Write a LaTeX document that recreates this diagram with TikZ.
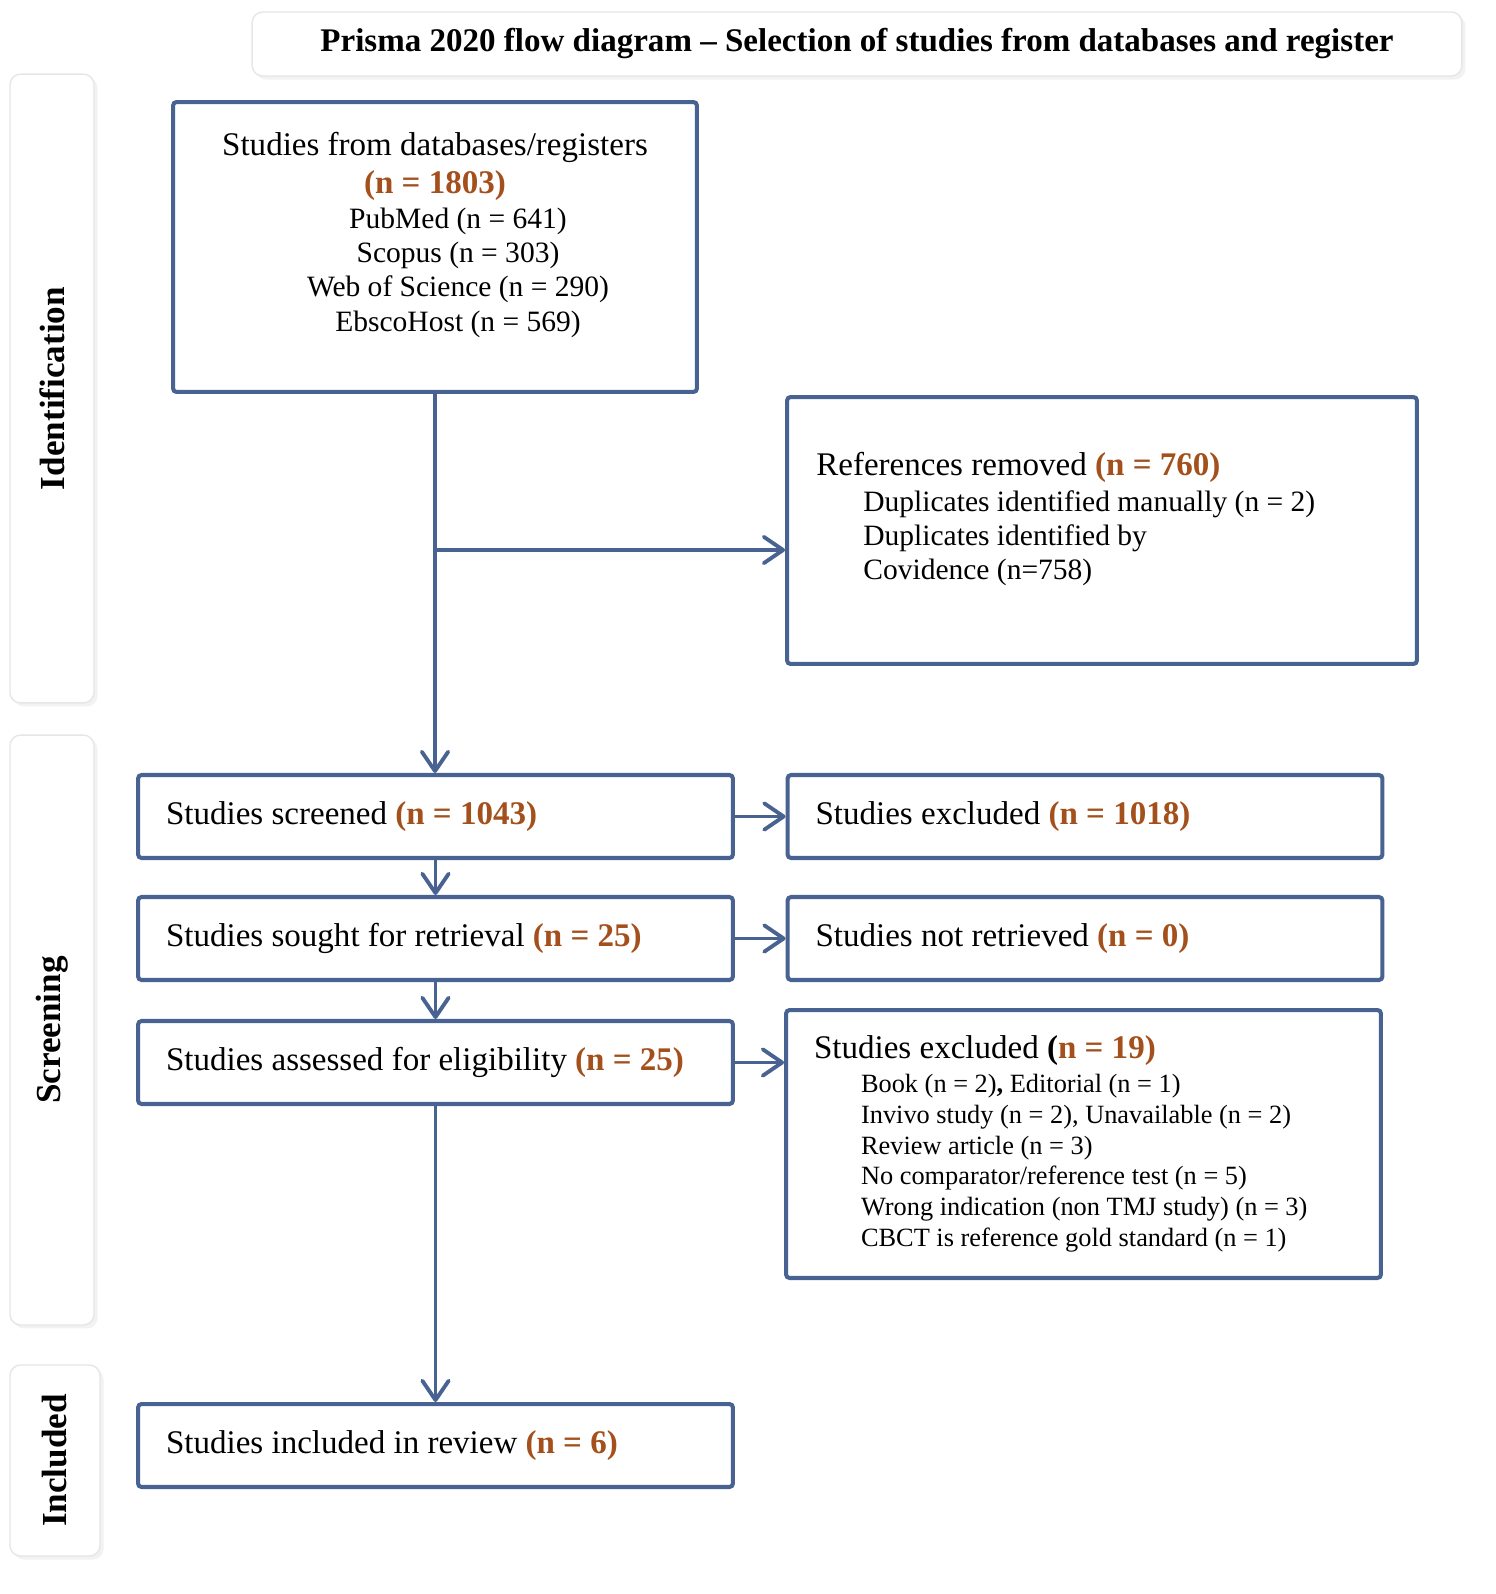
\documentclass[tikz,border=0pt]{standalone}
\usepackage{fontspec}
\setmainfont{Liberation Serif}
\usetikzlibrary{positioning,arrows.meta,shadows}

\definecolor{prisblue}{RGB}{72,99,145}
\definecolor{prisorange}{RGB}{164,80,28}
\definecolor{panelgray}{RGB}{230,230,230}

\newcommand{\mainsize}{\fontsize{18.8}{20.3}\selectfont}
\newcommand{\subsize}{\fontsize{16.8}{19.4}\selectfont}
\newcommand{\listsize}{\fontsize{15}{17.5}\selectfont}
\newcommand{\sidesize}{\fontsize{20}{22}\selectfont}
\newcommand{\nval}[1]{\textbf{\color{prisorange}#1}}

\begin{document}
\begin{tikzpicture}[x=0.02cm,y=-0.02cm,>={Straight Barb[length=11pt,width=15pt,round]},
  flowbox/.style={draw=prisblue, line width=2.3pt, rounded corners=2pt, fill=white, font=\mainsize},
  leftbox/.style={flowbox, minimum height=1.66cm, text width=10.78cm, align=flush left, inner xsep=0.56cm},
  panel/.style={draw=panelgray, line width=0.8pt, rounded corners=6pt, fill=white,
    drop shadow={opacity=0.10, shadow xshift=2pt, shadow yshift=-2pt}},
  sidelabel/.style={rotate=90, font=\sidesize\bfseries},
  flow/.style={->, draw=prisblue, line width=2.2pt}]
  \fill[white] (0,0) rectangle (1496,1594);

  % Title and stage panels
  \node[panel, minimum width=24.2cm, minimum height=1.28cm, font=\mainsize\bfseries] (title) at (857,44)
    {Prisma 2020 flow diagram – Selection of studies from databases and register};
  \node[panel, minimum width=1.68cm, minimum height=12.58cm] (idpanel) at (52,388.5) {};
  \node[sidelabel] (idlabel) at (idpanel.center) {Identification};
  \node[panel, minimum width=1.68cm, minimum height=11.8cm] (scrpanel) at (52,1030) {};
  \node[sidelabel] (scrlabel) at (scrpanel.center) {Screening};
  \node[panel, minimum width=1.8cm, minimum height=3.82cm] (incpanel) at (55,1460.5) {};
  \node[sidelabel] (inclabel) at (incpanel.center) {Included};

  % Identification
  \node[flowbox, minimum width=10.48cm, minimum height=5.8cm] (src) at (435,247) {};
  \node[anchor=north, align=center, inner sep=0pt, font=\fontsize{18.8}{21.5}\selectfont] (srchead) at (435,132)
    {Studies from databases/registers\\ \nval{(n = 1803)}};
  \node[anchor=north, align=center, inner sep=0pt, font=\subsize] (srclist) at (458,208)
    {PubMed (n = 641)\\ Scopus (n = 303)\\ Web of Science (n = 290)\\ EbscoHost (n = 569)};
  \node[flowbox, minimum width=12.6cm, minimum height=5.34cm] (refs) at (1102,530.5) {};
  \node[anchor=north west, align=flush left, inner sep=0pt, font=\subsize] (refstext) at (816,452)
    {{\mainsize References removed \nval{(n = 760)}}\\[1pt]
     \hspace*{0.94cm}Duplicates identified manually (n = 2)\\
     \hspace*{0.94cm}Duplicates identified by\\
     \hspace*{0.94cm}Covidence (n=758)};

  % Screening
  \node[leftbox] (screened) at (435.5,816.5) {Studies screened \nval{(n = 1043)}};
  \node[leftbox] (excl) at (1085,816.5) {Studies excluded \nval{(n = 1018)}};
  \node[leftbox] (sought) at (435.5,938.5) {Studies sought for retrieval \nval{(n = 25)}};
  \node[leftbox] (notret) at (1085,938.5) {Studies not retrieved \nval{(n = 0)}};
  \node[leftbox] (assessed) at (435.5,1062.5) {Studies assessed for eligibility \nval{(n = 25)}};
  \node[leftbox, minimum height=5.36cm, font=\listsize] (excl2) at (1083.5,1144)
    {{\mainsize Studies excluded \textbf{(}\nval{n = 19)}}\\[1.8pt]
     \hspace*{0.94cm}Book (n = 2)\textbf{,} Editorial (n = 1)\\
     \hspace*{0.94cm}Invivo study (n = 2), Unavailable (n = 2)\\
     \hspace*{0.94cm}Review article (n = 3)\\
     \hspace*{0.94cm}No comparator/reference test (n = 5)\\
     \hspace*{0.94cm}Wrong indication (non TMJ study) (n = 3)\\
     \hspace*{0.94cm}CBCT is reference gold standard (n = 1)};

  % Included
  \node[leftbox] (incl) at (435.5,1445.5) {Studies included in review \nval{(n = 6)}};

  % Connections
  \coordinate (split) at (435,550);
  \draw[flow] (src.south) -- (src.south |- screened.north);
  \draw[flow] (split) -- (split -| refs.west);
  \draw[flow] (screened.east) -- (excl.west);
  \draw[flow] (screened.south) -- (sought.north);
  \draw[flow] (sought.east) -- (notret.west);
  \draw[flow] (sought.south) -- (assessed.north);
  \draw[flow] (assessed.east) -- (assessed.east -| excl2.west);
  \draw[flow] (assessed.south) -- (incl.north);

  \pgfresetboundingbox
  \useasboundingbox (0,0) rectangle (1496,1594);
\end{tikzpicture}
\end{document}
